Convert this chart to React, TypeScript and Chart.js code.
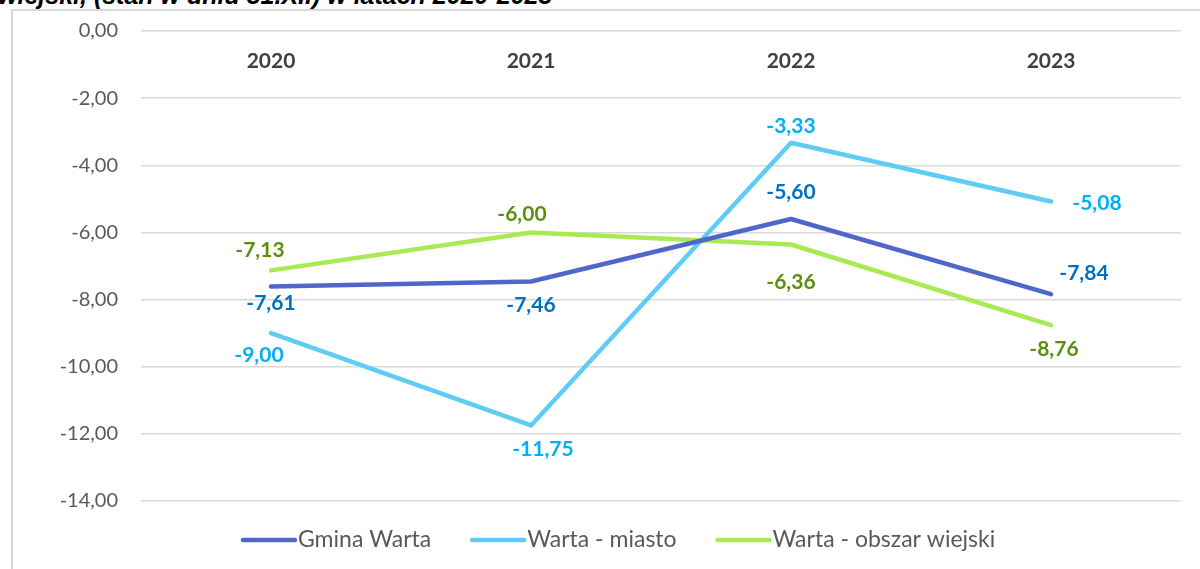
import React, { useEffect, useRef } from "react";
import { Chart, registerables } from "chart.js";

Chart.register(...registerables);

const categories = ["2020", "2021", "2022", "2023"];
const gminaWarta = [-7.61, -7.46, -5.6, -7.84];
const wartaMiasto = [-9.0, -11.75, -3.33, -5.08];
const wartaWies = [-7.13, -6.0, -6.36, -8.76];
const seriesNames = ["Gmina Warta", "Warta - miasto", "Warta - obszar wiejski"];
const titleText = "wiejski, (stan w dniu 31.XII) w latach 2020-2023";

const lineColors = ["#4E67C8", "#5ECCF3", "#A7EA52"];
const labelColors = ["#0070C0", "#00B0F0", "#5B8F0F"];
// label offsets (dx, dy) from each point, per series
const labelOffsets = [
  [[0, 17], [0, 24], [0, -27], [33, -21]],
  [[-12, 22], [12, 24], [0, -17], [46, 2]],
  [[-11, -20], [-9, -18], [0, 38], [3, 24]],
];

const FONT = "Lato, 'Open Sans', sans-serif";

const fmt = (v: number) => v.toFixed(2).replace(".", ",");

export default function App() {
  const ref = useRef<HTMLCanvasElement | null>(null);
  useEffect(() => {
    if (!ref.current) return;
    const extras = {
      id: "extras",
      afterDatasetsDraw(chart: any) {
        const ctx = chart.ctx;
        const x = chart.scales.x;
        const y = chart.scales.y;
        ctx.save();
        // category labels
        ctx.font = `bold 21px ${FONT}`;
        ctx.fillStyle = "#404040";
        ctx.textAlign = "center";
        ctx.textBaseline = "middle";
        categories.forEach((c, i) => {
          ctx.fillText(c, x.getPixelForValue(i), y.getPixelForValue(0) + 30);
        });
        // data labels
        chart.data.datasets.forEach((ds: any, di: number) => {
          ctx.fillStyle = labelColors[di];
          ds.data.forEach((v: number, i: number) => {
            const [dx, dy] = labelOffsets[di][i];
            ctx.fillText(fmt(v), x.getPixelForValue(i) + dx, y.getPixelForValue(v) + dy);
          });
        });
        // legend
        ctx.font = `23px ${FONT}`;
        ctx.textAlign = "left";
        let lx = 243;
        const ly = 540;
        chart.data.datasets.forEach((ds: any, di: number) => {
          ctx.strokeStyle = lineColors[di];
          ctx.lineWidth = 4.5;
          ctx.lineCap = "round";
          ctx.beginPath();
          ctx.moveTo(lx, ly);
          ctx.lineTo(lx + 52, ly);
          ctx.stroke();
          ctx.fillStyle = "#595959";
          ctx.fillText(ds.label, lx + 55, ly);
          lx += 55 + ctx.measureText(ds.label).width + 41;
        });
        ctx.restore();
      },
    };
    const chart = new Chart(ref.current, {
      type: "line",
      data: {
        labels: categories,
        datasets: [gminaWarta, wartaMiasto, wartaWies].map((d, i) => ({
          label: seriesNames[i],
          data: d,
          borderColor: lineColors[i],
          backgroundColor: lineColors[i],
          borderWidth: 4.5,
          borderCapStyle: "round",
          borderJoinStyle: "round",
          pointRadius: 0,
          tension: 0,
          fill: false,
        })),
      },
      options: {
        responsive: false,
        animation: false,
        layout: { padding: { left: 0, top: 31, right: 19, bottom: 68 } },
        plugins: { legend: { display: false }, tooltip: { enabled: false }, title: { display: false } },
        scales: {
          x: { type: "category", offset: true, display: false },
          y: {
            min: -14,
            max: 0,
            afterFit: (s: any) => { s.width = 141; s.paddingTop = 0; s.paddingBottom = 0; },
            border: { display: false },
            grid: { color: "#D9D9D9", lineWidth: 1.5, drawTicks: false },
            ticks: {
              stepSize: 2,
              padding: 23,
              color: "#595959",
              font: { family: FONT, size: 20 },
              callback: (v: any) => fmt(Number(v)),
            },
          },
        },
      } as any,
      plugins: [extras],
    });
    return () => chart.destroy();
  }, []);
  return (
    <div style={{ position: "fixed", left: 0, top: 0, width: 1200, height: 569, background: "#fff", overflow: "hidden" }}>
      <div style={{ position: "absolute", left: -2, top: -17, fontFamily: "'Liberation Sans', Arial, sans-serif", fontStyle: "italic", fontWeight: "bold", fontSize: 25, lineHeight: "25px", whiteSpace: "nowrap", color: "#000" }}>
        {titleText}
      </div>
      <div style={{ position: "absolute", left: 11, top: 9, width: 1300, height: 700, borderLeft: "2px solid #D9D9D9", borderTop: "2px solid #D9D9D9" }} />
      <canvas ref={ref} width={1200} height={569} style={{ position: "absolute", left: 0, top: 0 }} />
    </div>
  );
}
